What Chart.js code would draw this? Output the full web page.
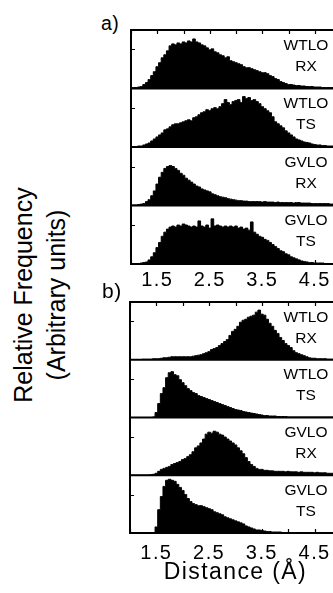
<!DOCTYPE html>
<html>
<head>
<meta charset="utf-8">
<script src="https://cdn.jsdelivr.net/npm/chart.js@4.4.0/dist/chart.umd.min.js"></script>
<style>
html,body{margin:0;padding:0;background:#fff;overflow:hidden;width:333px;height:593px;}
#wrap{position:relative;width:333px;height:593px;overflow:hidden;font-family:"Liberation Sans",Arial,sans-serif;color:#000;background:#fff;}
canvas{position:absolute;}
.row-label{position:absolute;width:60px;font-size:15.5px;line-height:21px;text-align:center;white-space:nowrap;}
.panel-letter{position:absolute;white-space:nowrap;}
#ytitle{position:absolute;width:260px;height:66px;font-size:25px;line-height:33px;text-align:center;white-space:nowrap;transform:rotate(-90deg);transform-origin:50% 50%;}
</style>
</head>
<body>
<div id="wrap">
  <canvas id="panelA" width="230" height="274" style="left:121px;top:20px;"></canvas>
  <canvas id="panelB" width="231" height="301" style="left:120px;top:292px;"></canvas>
  <div class="panel-letter" style="left:101px;top:14px;font-size:19.5px;line-height:19px;letter-spacing:0.5px;">a)</div>
  <div class="panel-letter" style="left:102px;top:280px;font-size:21px;line-height:21px;letter-spacing:0.5px;">b)</div>
  <div id="ytitle" style="left:-90px;top:262px;">Relative Frequency<br>(Arbitrary units)</div>
</div>
<script>
// ---- Data (bin centres in Å, relative frequency in arbitrary units) ----
const binCenters = [
 1.00,1.05,1.10,1.15,1.20,1.25,1.30,1.35,1.40,1.45,
 1.50,1.55,1.60,1.65,1.70,1.75,1.80,1.85,1.90,1.95,
 2.00,2.05,2.10,2.15,2.20,2.25,2.30,2.35,2.40,2.45,
 2.50,2.55,2.60,2.65,2.70,2.75,2.80,2.85,2.90,2.95,
 3.00,3.05,3.10,3.15,3.20,3.25,3.30,3.35,3.40,3.45,
 3.50,3.55,3.60,3.65,3.70,3.75,3.80,3.85,3.90,3.95,
 4.00,4.05,4.10,4.15,4.20,4.25,4.30,4.35,4.40,4.45,
 4.50,4.55,4.60,4.65,4.70,4.75,4.80,4.85,4.90,4.95,
 5.00];

const xTickLabels = ["1.5","2.5","3.5","4.5"];
const rowLabelsTop = ["WTLO","WTLO","GVLO","GVLO"];
const rowLabelsBottom = ["RX","TS","RX","TS"];

// Panel a)
const aWtloRx = [1,1,1,1.5,2,4,6,9,13,17,
 22,26,31,34,38,43,45,44,46,45,
 47,46,48,47,50,47,46,44,43,41,
 39,40,37,36,34,33,31,32,28,27,
 26,25,24,22,21,21,20,19,18,17,
 16,16,15,13,12,10,9,7,6,5,
 4,4,3.5,3,3,2.5,2.5,2,2,2,
 1.5,1.5,1.5,1,1,1,1,1,1,1,
 1];
const aWtloTs = [0.5,0.5,0.5,1,1,2,3,4,6,8,
 10,12,14,17,18,20,22,23,23,24,
 25,26,27,26,29,30,32,34,35,37,
 36,38,39,38,40,43,47,44,42,45,
 46,47,44,50,48,49,46,47,45,43,
 40,38,36,34,30,25,23,21,19,16,
 14,12,10,8,7,6,5,4.5,4,3,
 2.5,2,2,1.5,1.5,1,1,1,1,1,
 1];
const aGvloRx = [0.5,0.5,0.5,1,1.5,2,4,6,10,15,
 22,29,34,38,40,41,40,38,36,33,
 31,28,26,24,22,20,19,17,16,15,
 14,12,11,10,9,8.5,8,7,6.5,6,
 5.5,5,5,4.5,4.5,4,4,4,4,4,
 3.5,4,3.5,3.5,3.5,3,3.5,3,3,3,
 3,3,2.5,3,3,2.5,2.5,2.5,2.5,2,
 2,2,2,2,2,2,1.5,1.5,1.5,1.5,
 1.5];
const aGvloTs = [0,0,0.5,0.5,1,1.5,2,4,7,11,
 16,21,27,31,34,36,37,36,38,37,
 39,38,37,36,37,36,42,37,36,38,
 35,44,37,38,37,36,37,36,37,36,
 37,35,36,34,35,33,41,31,29,27,
 26,24,23,21,19,17,15,13,12,10,
 9,7,6,5,4,3,2.5,2,1.5,1.5,
 1,1,1,1,0.5,0.5,0.5,0.5,0.5,0.5,
 0.5];

// Panel b)
const bWtloRx = [0,0,0,0,0,0.5,0.5,0.5,0.5,1,
 1,1,1.5,2,2,2.5,3,3,3,3,
 3,3,3,3,3.5,4,4.5,5,6,7,
 8,10,11,12,14,16,18,20,24,28,
 30,33,37,39,40,42,43,44,47,49,
 45,44,40,36,33,29,26,22,19,16,
 14,12,9,7,6,5,4,3,2,1.5,
 1.5,1,1,1,1,0.5,0.5,0.5,0.5,0.5,
 0.5];
const bWtloTs = [0,0,0,0,0,0,0,0,0,0.5,
 5,14,24,30,40,45,46,43,42,38,
 35,32,29,27,25,24,22,21,20,19,
 18,17,16,15,14,13,12,11,10,9,
 8,7.5,7,6,5.5,5,4.5,4,3.5,3,
 2.5,2,2,1.5,1.5,1.5,1,1,1,1,
 0.5,0.5,0.5,0.5,0.5,0.5,0.5,0.5,0.5,0.5,
 0.5,0.5,0.5,0.5,0.5,0.5,0.5,0.5,0.5,0.5,
 0.5];
const bGvloRx = [0,0,0,0,0,0,0,0,0.5,1,
 2,4,6,7,8,9,11,12,13,14,
 16,17,19,21,24,28,30,33,37,42,
 44,43,45,44,42,41,39,37,35,33,
 31,28,25,22,18,14,11,9,7,6,
 6,5,5,4.5,4.5,4,4,4,4,3.5,
 4,3.5,3.5,3.5,3,3.5,3,3,3,3,
 2.5,3,2.5,2.5,2.5,2,2,2,2,2,
 2];
const bGvloTs = [0,0,0,0,0,0,0,0,0,0.5,
 6,23,36,46,52,53,52,51,48,45,
 42,38,34,31,29,28,27,27,26,25,
 24,23,21,20,19,18,16,15,14,13,
 12,11,10,9,7,6,5,4,3,3,
 2.5,2,1.5,1.5,1,1,1,1,0.5,0.5,
 0.5,0.5,0.5,0.5,0.5,0.5,0.5,0.5,0.5,0.5,
 0.5,0.5,0.5,0.5,0.5,0.5,0.5,0.5,0.5,0.5,
 0.5];

// Axis maxima of each sub-plot (top to bottom)
const yMaxA = [59,58,60,57];
const yMaxB = [57,58,59,57];

// ---- Drawing ----
const FONT = '"Liberation Sans", Arial, sans-serif';

const spacingPlugin = {
  id: 'spacing',
  beforeDraw(chart) { chart.ctx.letterSpacing = '1.4px'; }
};

const framePlugin = {
  id: 'frame',
  afterDatasetsDraw(chart) {
    const {ctx, chartArea: a, scales} = chart;
    const xs = scales.x;
    ctx.save();
    ctx.strokeStyle = '#000';
    ctx.lineCap = 'butt';
    // inward x ticks on top and bottom of the panel
    ctx.lineWidth = 1.2;
    ctx.beginPath();
    xs.ticks.forEach(t => {
      const px = Math.round(xs.getPixelForValue(t.value)) + 0.5;
      ctx.moveTo(px, a.top); ctx.lineTo(px, a.top + 4);
      ctx.moveTo(px, a.bottom); ctx.lineTo(px, a.bottom - 4);
    });
    // inward y ticks on each sub-plot
    Object.keys(scales).filter(k => k !== 'x').forEach(k => {
      const ys = scales[k];
      ys.ticks.forEach(t => {
        if (t.value <= ys.min + 1e-6 || t.value >= ys.max - 1e-6) return;
        const py = Math.round(ys.getPixelForValue(t.value)) + 0.5;
        ctx.moveTo(a.left, py); ctx.lineTo(a.left + 4, py);
      });
    });
    ctx.stroke();
    // frame and separators
    ctx.lineWidth = 2;
    ctx.beginPath();
    ctx.rect(a.left, a.top, a.right - a.left, a.bottom - a.top);
    Object.keys(scales).filter(k => k !== 'x').forEach(k => {
      const ys = scales[k];
      ctx.moveTo(a.left, ys.bottom); ctx.lineTo(a.right, ys.bottom);
    });
    ctx.stroke();
    ctx.restore();
  }
};

function makePanel(canvasId, series, yMax, o) {
  const scales = {
    x: {
      type: 'linear', position: 'bottom', min: 1, max: 5,
      grid: {display: false, drawTicks: false},
      border: {display: false},
      ticks: {
        stepSize: 0.5, autoSkip: false, maxRotation: 0, minRotation: 0,
        padding: o.tickPad, color: '#000',
        font: {family: FONT, size: 20},
        callback: (v) => { const s = Number(v).toFixed(1); return xTickLabels.includes(s) ? s : ''; }
      },
      title: o.title ? {display: true, text: o.title, color: '#000',
        font: {family: FONT, size: 23}, padding: {top: 0, bottom: o.titlePad}} : {display: false},
      afterFit: (s) => { s.height = o.axisH; }
    }
  };
  const datasets = [];
  series.forEach((vals, i) => {
    const id = 'y' + i;
    scales[id] = {
      type: 'linear', display: false, position: 'left',
      stack: 'rows', stackWeight: 1, weight: series.length - i,
      min: 0, max: yMax[i],
      ticks: {stepSize: yMax[i] / 3},
      grid: {display: false}
    };
    datasets.push({
      data: binCenters.map((x, j) => ({x: x, y: vals[j]})),
      yAxisID: id,
      stepped: 'middle',
      fill: 'origin',
      backgroundColor: '#000',
      borderColor: '#000',
      borderWidth: 1,
      pointRadius: 0
    });
  });
  const chart = new Chart(document.getElementById(canvasId), {
    type: 'line',
    data: {datasets},
    options: {
      responsive: false, animation: false, devicePixelRatio: 1,
      layout: {padding: o.padding},
      plugins: {legend: {display: false}, tooltip: {enabled: false}},
      scales
    },
    plugins: [spacingPlugin, framePlugin]
  });
  // row labels positioned from the sub-plot scales
  const wrap = document.getElementById('wrap');
  const cv = document.getElementById(canvasId);
  const offTop = parseFloat(cv.style.top);
  series.forEach((v, i) => {
    const ys = chart.scales['y' + i];
    const d = document.createElement('div');
    d.className = 'row-label';
    d.style.left = '276px';
    d.style.top = (offTop + ys.top + 3.7) + 'px';
    d.innerHTML = rowLabelsTop[i] + '<br>' + rowLabelsBottom[i];
    wrap.appendChild(d);
  });
  return chart;
}

makePanel('panelA', [aWtloRx, aWtloTs, aGvloRx, aGvloTs], yMaxA,
  {tickPad: 4, axisH: 30, padding: {left: 10, top: 10, right: 10, bottom: 0}});
makePanel('panelB', [bWtloRx, bWtloTs, bGvloRx, bGvloTs], yMaxB,
  {tickPad: 8.5, axisH: 60, title: 'Distance (Å)', titlePad: 6.7,
   padding: {left: 10, top: 10, right: 10, bottom: 0}});
</script>
</body>
</html>
